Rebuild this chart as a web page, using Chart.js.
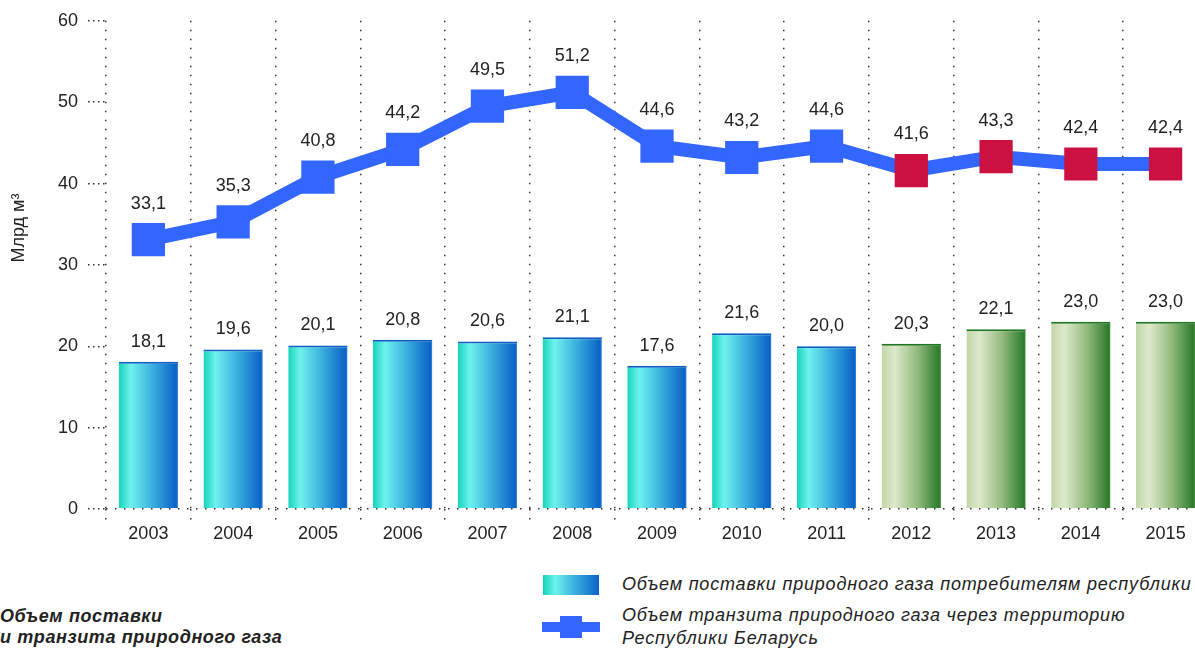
<!DOCTYPE html>
<html><head><meta charset="utf-8">
<script src="https://cdn.jsdelivr.net/npm/chart.js@4.4.0/dist/chart.umd.min.js"></script>
<style>
html,body{margin:0;padding:0;background:#fff;overflow:hidden;width:1195px;height:650px;position:relative;}
#wrap{position:absolute;left:0;top:0;width:1208px;height:545px;}
.t{position:absolute;font-family:"Liberation Sans",Arial,Helvetica,sans-serif;font-size:18px;letter-spacing:0.8px;color:#222;white-space:nowrap;font-style:italic;}
.sw{position:absolute;}
</style></head><body>
<div id="wrap"><canvas id="c" width="1208" height="545"></canvas></div>
<div class="sw" style="left:543px;top:575px;width:56px;height:20px;background:linear-gradient(to right,#14d4b8 0%,#6ef2ee 22%,#3cb2e0 55%,#0a62c6 100%);"></div>
<div class="t" style="left:622px;top:573px;line-height:23px;">Объем поставки природного газа потребителям республики</div>
<div class="sw" style="left:542px;top:622px;width:58px;height:10px;background:#3366ff;"></div>
<div class="sw" style="left:560px;top:616px;width:22px;height:22px;background:#3366ff;"></div>
<div class="t" style="left:622px;top:604px;line-height:23px;">Объем транзита природного газа через территорию<br>Республики Беларусь</div>
<div class="t" style="left:0px;top:606px;line-height:21px;font-weight:bold;letter-spacing:0.6px;">Объем поставки<br>и транзита природного газа</div>
<script>
const years = ['2003','2004','2005','2006','2007','2008','2009','2010','2011','2012','2013','2014','2015'];
const supplyValues = [18.1, 19.6, 20.1, 20.8, 20.6, 21.1, 17.6, 21.6, 20.0, 20.3, 22.1, 23.0, 23.0];
const transitValues = [33.1, 35.3, 40.8, 44.2, 49.5, 51.2, 44.6, 43.2, 44.6, 41.6, 43.3, 42.4, 42.4];
const highlightedYears = ['2012','2013','2014','2015'];
const yMin = 0, yMax = 60, yStep = 10;
const supplyLabel = 'Объем поставки природного газа потребителям республики';
const transitLabel = 'Объем транзита природного газа через территорию Республики Беларусь';
const yTitle = 'Млрд м³';

const FONT = '"Liberation Sans", Arial, Helvetica, sans-serif';
Chart.defaults.font.family = FONT;
Chart.defaults.font.size = 18;
Chart.defaults.color = '#222';

const BAR_PCT = 0.7;
const isHi = i => highlightedYears.includes(years[i]);
const fmt = v => v.toFixed(1).replace('.', ',');

function barGradient(ctx) {
  const chart = ctx.chart;
  const xs = chart.scales && chart.scales.x;
  const i = ctx.dataIndex;
  const fallback = (i !== undefined && isHi(i)) ? '#93bb7e' : '#3cb2e0';
  if (!xs || i === undefined) return fallback;
  const cx = xs.getPixelForValue(i);
  const w = xs.width / years.length * BAR_PCT;
  if (!isFinite(cx) || !isFinite(w) || w <= 0) return fallback;
  const g = chart.ctx.createLinearGradient(cx - w / 2, 0, cx + w / 2, 0);
  if (isHi(i)) {
    g.addColorStop(0, '#c2d6a6');
    g.addColorStop(0.22, '#dde9cb');
    g.addColorStop(0.6, '#93bb7e');
    g.addColorStop(0.97, '#2b7b2b');
    g.addColorStop(1, '#5a9a50');
  } else {
    g.addColorStop(0, '#14d4b8');
    g.addColorStop(0.2, '#6ef2ee');
    g.addColorStop(0.55, '#3cb2e0');
    g.addColorStop(0.97, '#0a62c6');
    g.addColorStop(1, '#4a90e0');
  }
  return g;
}

const valueLabels = {
  id: 'valueLabels',
  afterDatasetsDraw(chart) {
    const ctx = chart.ctx;
    ctx.save();
    ctx.font = '18px ' + FONT;
    ctx.fillStyle = '#222';
    ctx.textAlign = 'center';
    ctx.textBaseline = 'middle';
    chart.data.datasets.forEach((ds, di) => {
      const meta = chart.getDatasetMeta(di);
      const off = ds.type === 'line' ? 36 : 20;
      meta.data.forEach((el, i) => {
        ctx.fillText(fmt(ds.data[i]), el.x, el.y - off);
      });
    });
    ctx.restore();
  }
};

const yTitlePlugin = {
  id: 'yTitle',
  afterDraw(chart) {
    const ctx = chart.ctx;
    ctx.save();
    ctx.translate(19, 228);
    ctx.rotate(-Math.PI / 2);
    ctx.font = '18px ' + FONT;
    ctx.fillStyle = '#222';
    ctx.textAlign = 'center';
    ctx.textBaseline = 'middle';
    ctx.fillText(yTitle, 0, 0);
    ctx.restore();
  }
};

new Chart(document.getElementById('c'), {
  type: 'bar',
  data: {
    labels: years,
    datasets: [
      {
        type: 'line',
        label: transitLabel,
        data: transitValues,
        order: 0,
        borderColor: '#3366ff',
        borderWidth: 14,
        tension: 0,
        fill: false,
        pointStyle: 'rect',
        pointRadius: 23.5,
        pointHoverRadius: 23.5,
        pointBorderWidth: 0,
        pointBackgroundColor: ctx => isHi(ctx.dataIndex) ? '#cc1040' : '#3366ff',
        pointBorderColor: ctx => isHi(ctx.dataIndex) ? '#cc1040' : '#3366ff'
      },
      {
        type: 'bar',
        label: supplyLabel,
        data: supplyValues,
        order: 1,
        barPercentage: BAR_PCT,
        categoryPercentage: 1,
        backgroundColor: barGradient,
        borderColor: ctx => isHi(ctx.dataIndex) ? '#217421' : '#0b5fc2',
        borderWidth: {top: 2, left: 0, right: 0, bottom: 0},
        borderSkipped: 'bottom'
      }
    ]
  },
  options: {
    responsive: false,
    animation: false,
    events: [],
    layout: {autoPadding: false, padding: {top: 19, left: 0, right: 0, bottom: 0}},
    plugins: {legend: {display: false}, tooltip: {enabled: false}},
    scales: {
      x: {
        grid: {
          offset: true,
          color: '#333',
          lineWidth: 1.5,
          drawTicks: true,
          tickLength: 16,
          tickColor: '#333',
          tickWidth: 1.5,
          tickBorderDash: [1.5, 7.5]
        },
        border: {display: false, dash: [1.5, 7.5]},
        ticks: {color: '#222', font: {size: 18}, padding: -2, maxRotation: 0, autoSkip: false},
        afterFit(s) { s.height = 36; }
      },
      y: {
        min: yMin,
        max: yMax,
        ticks: {stepSize: yStep, color: '#222', font: {size: 18}, padding: 10},
        grid: {
          drawOnChartArea: true,
          color: c => (c.tick && c.tick.value === 0) ? '#333' : 'rgba(0,0,0,0)',
          lineWidth: 1.5,
          drawTicks: true,
          tickLength: 18,
          tickColor: '#333',
          tickWidth: 1.5,
          tickBorderDash: [1.5, 3.5]
        },
        border: {display: false, dash: [1.5, 7.5]},
        afterFit(s) { s.width = 106; }
      }
    }
  },
  plugins: [valueLabels, yTitlePlugin]
});
</script>
</body></html>
